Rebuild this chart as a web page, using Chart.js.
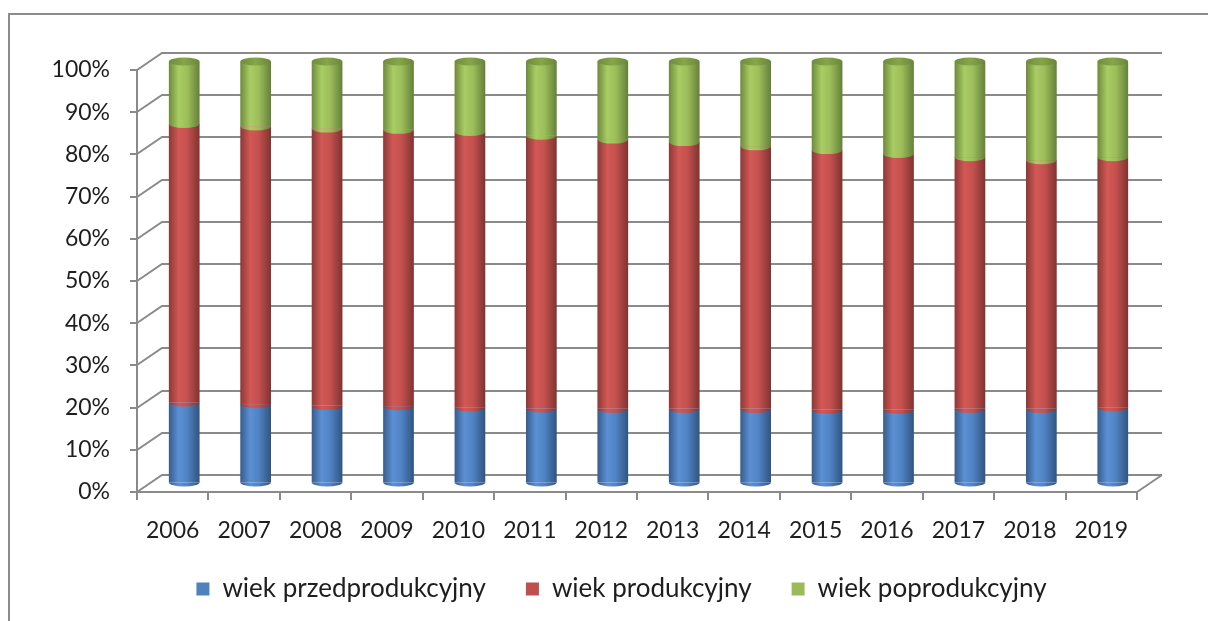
<!DOCTYPE html>
<html>
<head>
<meta charset="utf-8">
<script src="https://cdn.jsdelivr.net/npm/chart.js@4/dist/chart.umd.min.js"></script>
<style>
  html, body { margin: 0; padding: 0; background: #ffffff; }
  #c { display: block; }
</style>
</head>
<body>
<canvas id="c" width="1208" height="621"></canvas>
<script>
// ---- data ----
const years = ['2006','2007','2008','2009','2010','2011','2012','2013','2014','2015','2016','2017','2018','2019'];
const seriesNames = ['wiek przedprodukcyjny', 'wiek produkcyjny', 'wiek poprodukcyjny'];
const przedprodukcyjny = [19.2, 18.8, 18.4, 18.3, 18.0, 17.8, 17.7, 17.7, 17.7, 17.5, 17.5, 17.7, 17.7, 18.0];
const produkcyjny      = [66.0, 65.8, 65.7, 65.5, 65.3, 64.6, 63.8, 63.2, 62.2, 61.5, 60.6, 59.6, 58.9, 59.3];
const poprodukcyjny    = [14.8, 15.4, 15.9, 16.2, 16.7, 17.6, 18.5, 19.1, 20.1, 21.0, 21.9, 22.7, 23.4, 22.7];
const yTickValues = [0, 10, 20, 30, 40, 50, 60, 70, 80, 90, 100];

// ---- style ----
const FONT = { family: 'Lato, "Noto Sans", sans-serif', size: 23 };
const LEGEND_FONT = { family: 'Lato, "Noto Sans", sans-serif', size: 26 };
const TEXT = '#1e1e1e';
const GRID = '#8a8a8a';
const DX = 25, DY = -17;           // depth of the 3D box
const BAR_PCT = 0.43;
const LEGEND_SHIFT_X = 53, LEGEND_GAP_Y = 44;
const flat = ['#4F81BD', '#C0504D', '#9BBB59'];
const shades = [
  ['#375c8d', '#5b90d4', '#4f83c4', '#31547f'],
  ['#8c3836', '#d25855', '#c4514e', '#7f3331'],
  ['#6e8a3a', '#a9cc64', '#9dbe5a', '#64803a']
];

function cylinderFill(s) {
  return (c) => {
    const chart = c.chart;
    const xs = chart.scales && chart.scales.x;
    if (!xs || !chart.chartArea || c.type !== 'data') return s[2];
    const step = xs.width / years.length;
    const x = xs.getPixelForValue(c.dataIndex);
    const w = step * BAR_PCT;
    const g = chart.ctx.createLinearGradient(x - w / 2, 0, x + w / 2, 0);
    g.addColorStop(0, s[0]);
    g.addColorStop(0.32, s[1]);
    g.addColorStop(0.6, s[2]);
    g.addColorStop(1, s[3]);
    return g;
  };
}

const box3d = {
  id: 'box3d',
  afterLayout(chart) {
    const lg = chart.legend;
    if (!lg) return;
    const h = lg.bottom - lg.top;
    lg.left += LEGEND_SHIFT_X;
    lg.right += LEGEND_SHIFT_X;
    lg.top = chart.chartArea.bottom + LEGEND_GAP_Y;
    lg.bottom = lg.top + h;
  },
  beforeDraw(chart) {
    const ctx = chart.ctx;
    ctx.save();
    ctx.strokeStyle = '#8c8c8c';
    ctx.lineWidth = 2;
    ctx.beginPath();
    ctx.moveTo(9, 640);
    ctx.lineTo(9, 14);
    ctx.lineTo(1220, 14);
    ctx.stroke();
    ctx.restore();
  },
  beforeDatasetsDraw(chart) {
    const ctx = chart.ctx;
    const { left, right, bottom } = chart.chartArea;
    const ys = chart.scales.y;
    ctx.save();
    ctx.strokeStyle = GRID;
    ctx.lineWidth = 2;
    ctx.beginPath();
    yTickValues.forEach(v => {
      const y = Math.round(ys.getPixelForValue(v));
      ctx.moveTo(left, y);
      ctx.lineTo(left + DX, y + DY);
      ctx.lineTo(right + DX, y + DY);
    });
    ctx.moveTo(right, bottom);
    ctx.lineTo(right + DX, bottom + DY);
    ctx.stroke();
    ctx.restore();
    ctx.save();
    ctx.translate(DX / 2 - 1, DY / 2);
  },
  afterDatasetsDraw(chart) {
    const ctx = chart.ctx;
    const ry = 4;
    chart.data.datasets.forEach((ds, di) => {
      const meta = chart.getDatasetMeta(di);
      meta.data.forEach((el) => {
        ctx.beginPath();
        ctx.ellipse(el.x, el.base, el.width / 2, ry, 0, 0, Math.PI);
        ctx.closePath();
        ctx.fillStyle = el.options.backgroundColor;
        ctx.fill();
        if (di === chart.data.datasets.length - 1) {
          const g = ctx.createLinearGradient(el.x - el.width / 2, 0, el.x + el.width / 2, 0);
          g.addColorStop(0, '#6f8c3c');
          g.addColorStop(0.5, '#86a64a');
          g.addColorStop(1, '#6a8638');
          ctx.beginPath();
          ctx.ellipse(el.x, el.y, el.width / 2, ry, 0, 0, Math.PI * 2);
          ctx.fillStyle = g;
          ctx.fill();
        }
      });
    });
    ctx.restore();
  }
};

const seriesData = [przedprodukcyjny, produkcyjny, poprodukcyjny];

new Chart(document.getElementById('c'), {
  type: 'bar',
  data: {
    labels: years,
    datasets: seriesData.map((d, i) => ({
      label: seriesNames[i],
      data: d,
      backgroundColor: cylinderFill(shades[i]),
      borderWidth: 0,
      barPercentage: BAR_PCT,
      categoryPercentage: 1
    }))
  },
  options: {
    responsive: false,
    animation: false,
    layout: { padding: { left: 0, right: 71, top: 70, bottom: 0 } },
    scales: {
      x: {
        stacked: true,
        grid: { display: true, drawOnChartArea: false, offset: true, tickLength: 8, color: GRID, lineWidth: 2 },
        border: { display: true, color: GRID, width: 2 },
        ticks: { font: FONT, color: TEXT, padding: 17, maxRotation: 0 },
        afterFit(s) { s.height = 53; }
      },
      y: {
        stacked: true,
        min: 0, max: 100,
        afterBuildTicks(s) { s.ticks = yTickValues.map(v => ({ value: v })); },
        ticks: { font: FONT, color: TEXT, padding: 20, callback: v => v + '%' },
        grid: { display: true, drawOnChartArea: false, tickLength: 7, color: GRID, lineWidth: 2 },
        border: { display: true, color: GRID, width: 2 },
        afterFit(s) { s.width = 137; }
      }
    },
    plugins: {
      tooltip: { enabled: false },
      legend: {
        position: 'bottom',
        labels: {
          font: LEGEND_FONT, color: TEXT, boxWidth: 13, boxHeight: 13, padding: 40,
          generateLabels(chart) {
            const items = Chart.defaults.plugins.legend.labels.generateLabels(chart);
            items.forEach((it, i) => { it.fillStyle = flat[i]; it.strokeStyle = flat[i]; it.lineWidth = 0; });
            return items;
          }
        }
      }
    }
  },
  plugins: [box3d]
});
</script>
</body>
</html>
